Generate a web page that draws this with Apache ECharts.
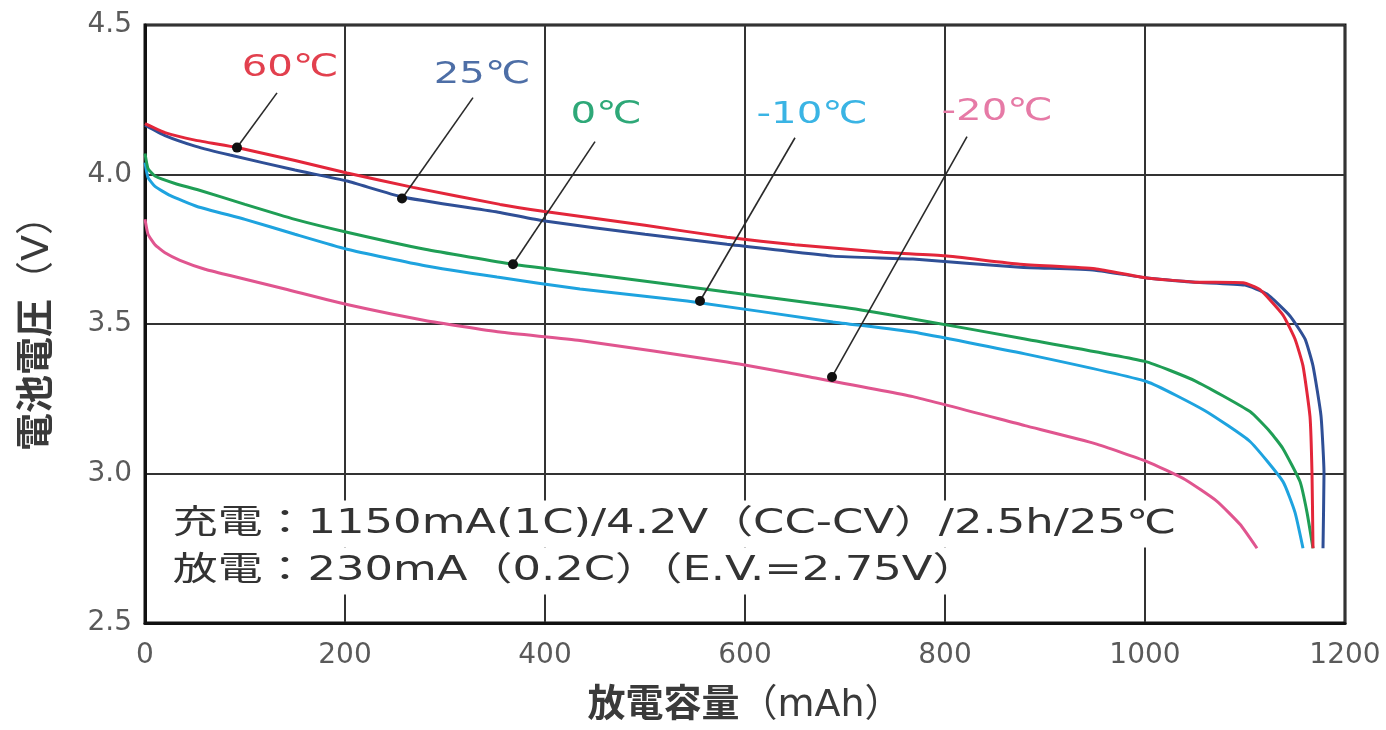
<!DOCTYPE html>
<html><head><meta charset="utf-8">
<script src="https://cdn.jsdelivr.net/npm/echarts@6/dist/echarts.min.js"></script>
<style>html,body{margin:0;padding:0;background:#fff}#c{width:1386px;height:730px}</style>
</head><body><div id="c"></div><script>
// ---- data (x: discharge capacity mAh, y: cell voltage V) ----
const xTicks = [0, 200, 400, 600, 800, 1000, 1200];
const yTicks = [2.5, 3.0, 3.5, 4.0, 4.5];
const curve60 = [[0,4.17],[20,4.14],[50,4.115],[92,4.09],[150,4.047],[202,4.005],[268,3.957],[355,3.90],[398,3.877],[500,3.83],[582,3.79],[650,3.765],[738,3.74],[800,3.728],[875,3.70],[950,3.685],[1000,3.655],[1050,3.64],[1098,3.638],[1115,3.615],[1138,3.53],[1150,3.45],[1158,3.36],[1165,3.19],[1167,3.0],[1168,2.75]];
const curve25 = [[0,4.165],[20,4.13],[50,4.095],[85,4.065],[150,4.015],[202,3.978],[257,3.925],[355,3.873],[398,3.845],[500,3.80],[582,3.767],[688,3.727],[768,3.717],[875,3.69],[950,3.68],[1000,3.655],[1050,3.64],[1100,3.63],[1122,3.60],[1145,3.527],[1160,3.45],[1168,3.36],[1176,3.193],[1179,3.0],[1178,2.75]];
const curve0 = [[0,4.07],[3,4.02],[10,3.995],[30,3.97],[52,3.95],[100,3.90],[150,3.85],[202,3.807],[280,3.75],[368,3.70],[450,3.665],[582,3.607],[700,3.555],[768,3.517],[880,3.45],[1000,3.375],[1050,3.31],[1105,3.207],[1125,3.14],[1138,3.083],[1155,2.973],[1162,2.87],[1168,2.75]];
const curveM10 = [[0,4.04],[3,3.99],[10,3.96],[25,3.93],[52,3.893],[100,3.85],[150,3.80],[202,3.75],[280,3.695],[352,3.657],[435,3.617],[542,3.577],[688,3.507],[768,3.473],[880,3.40],[1002,3.307],[1060,3.21],[1105,3.107],[1138,2.973],[1150,2.87],[1158,2.75]];
const curveM20 = [[0,3.85],[3,3.80],[10,3.765],[20,3.738],[35,3.713],[60,3.683],[85,3.662],[140,3.617],[202,3.565],[280,3.512],[355,3.473],[435,3.445],[582,3.373],[665,3.323],[768,3.257],[880,3.16],[950,3.10],[1002,3.04],[1040,2.98],[1072,2.907],[1095,2.83],[1112,2.75]];
const tempLabels = ['60℃', '25℃', '0℃', '-10℃', '-20℃'];
const labelAt = [[145,4.357],[337,4.333],[461,4.20],[667,4.20],[852,4.21]];
const leaderTop = [[132,4.273],[328,4.257],[450,4.11],[650,4.123],[822,4.127]];
const leaderDot = [[92,4.09],[257,3.92],[368,3.70],[555,3.577],[687,3.323]];
const conditionText = ['充電：1150mA(1C)/4.2V（CC-CV）/2.5h/25℃', '放電：230mA（0.2C）（E.V.=2.75V）'];
const xNameParts = ['放電容量', '（mAh）'];
const yNameParts = ['電池電圧', '（V）'];

const curveColors = ['#e3263a', '#2f4f96', '#1f9e55', '#1ea3df', '#e0558f'];
const labelColors = ['#e2404e', '#4d6ea6', '#2ea878', '#3ab4e4', '#e67aa6'];
const curves = [curve60, curve25, curve0, curveM10, curveM20];

const chart = echarts.init(document.getElementById('c'), null, {renderer: 'canvas'});
const latin = '"DejaVu Sans", "Noto Sans CJK JP", sans-serif';
const nameRich = {
  k: {fontSize: 38, fontWeight: 'bold', color: '#3a3a3a', fontFamily: latin},
  u: {fontSize: 38, fontWeight: 'normal', color: '#3a3a3a', fontFamily: latin}
};

const series = [];
// draw order: coldest first so 60℃ ends up on top
for (let i = curves.length - 1; i >= 0; i--) {
  series.push({
    type: 'line', name: tempLabels[i], data: curves[i], showSymbol: false, symbol: 'none',
    smooth: 0.15, lineStyle: {color: curveColors[i], width: 3}, z: 2 + (curves.length - i) * 0.01, silent: true
  });
}
for (let i = 0; i < tempLabels.length; i++) {
  series.push({
    type: 'line', data: [
      {value: leaderTop[i], symbol: 'none'},
      {value: leaderDot[i], symbol: 'circle', symbolSize: 10}
    ],
    showSymbol: true, lineStyle: {color: '#2a2a2a', width: 1.6}, itemStyle: {color: '#111'}, z: 4, silent: true
  });
}

chart.setOption({
  animation: false,
  backgroundColor: '#fff',
  grid: {left: 145, top: 25, width: 1200, height: 600, show: true, borderColor: '#111', borderWidth: 3, backgroundColor: 'transparent'},
  xAxis: {
    type: 'value', min: xTicks[0], max: xTicks[xTicks.length - 1], interval: 200,
    name: '{k|' + xNameParts[0] + '}{u|' + xNameParts[1] + '}', nameLocation: 'middle', nameGap: 64,
    nameTextStyle: {fontSize: 38, color: '#3a3a3a', fontFamily: latin, rich: nameRich},
    axisLine: {show: true, lineStyle: {color: '#111', width: 3}},
    axisTick: {show: false},
    axisLabel: {color: '#5a5a5a', fontSize: 28, margin: 19, fontFamily: latin, formatter: v => String(v)},
    splitLine: {show: true, lineStyle: {color: '#333', width: 2}}
  },
  yAxis: {
    type: 'value', min: yTicks[0], max: yTicks[yTicks.length - 1], interval: 0.5,
    name: '{k|' + yNameParts[0] + '}{u|' + yNameParts[1] + '}', nameLocation: 'middle', nameGap: 88,
    nameTextStyle: {fontSize: 38, color: '#3a3a3a', fontFamily: latin, rich: nameRich},
    axisLine: {show: true, lineStyle: {color: '#111', width: 3}},
    axisTick: {show: false},
    axisLabel: {color: '#5a5a5a', fontSize: 28, margin: 13, fontFamily: latin, formatter: v => v.toFixed(1)},
    splitLine: {show: true, lineStyle: {color: '#333', width: 2}}
  },
  series: series
});

const graphics = [];
for (let i = 0; i < tempLabels.length; i++) {
  const p = chart.convertToPixel({gridIndex: 0}, labelAt[i]);
  graphics.push({
    type: 'text', x: p[0], y: p[1], scaleX: 1.3, z: 10, silent: true,
    style: {text: tempLabels[i], fill: labelColors[i], fontSize: 31, fontFamily: latin, align: 'center', verticalAlign: 'middle'}
  });
}
const lineY = [524, 571];
for (let k = 0; k < conditionText.length; k++) {
  graphics.push({
    type: 'text', x: 166, y: lineY[k], scaleX: 1.36, z: 10, silent: true,
    style: {text: conditionText[k], fill: '#333', fontSize: 33, fontFamily: latin, align: 'left', verticalAlign: 'middle',
            backgroundColor: '#fff', padding: [7, 5]}
  });
}
chart.setOption({graphic: graphics});
</script></body></html>
